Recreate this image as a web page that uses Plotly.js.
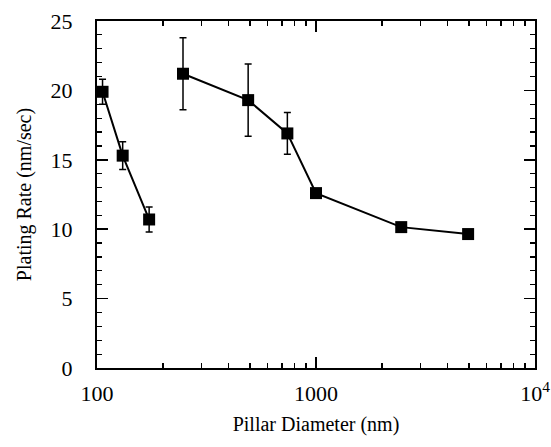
<!DOCTYPE html>
<html>
<head>
<meta charset="utf-8">
<script src="https://cdn.plot.ly/plotly-3.0.1.min.js"></script>
<style>html,body{margin:0;padding:0;background:#fff;}#chart{width:551px;height:447px;}</style>
</head>
<body>
<div id="chart"></div>
<script>
// Series A: small pillars
const diamA = [106, 131, 173];
const rateA = [19.9, 15.3, 10.7];
const errA = [0.9, 1.0, 0.9];
// Series B: larger pillars
const diamB = [247, 490, 740, 1000, 2450, 4950];
const rateB = [21.2, 19.3, 16.9, 12.6, 10.15, 9.65];
const errB = [2.6, 2.6, 1.5, 0.3, 0.3, 0.3];

const xTickVals = [100, 1000, 10000];
const xTickText = ['100', '1000', '10<sup>4</sup>'];
const xMinorVals = [200,300,400,500,600,700,800,900,2000,3000,4000,5000,6000,7000,8000,9000];
const yTickVals = [0, 5, 10, 15, 20, 25];

function mkTrace(x, y, e) {
  return {
    x: x, y: y, type: 'scatter', mode: 'lines+markers',
    line: {color: '#000', width: 2},
    marker: {symbol: 'square', size: 12, color: '#000'},
    error_y: {type: 'data', array: e, visible: true, color: '#000', thickness: 1.5, width: 3.5},
    showlegend: false
  };
}

const FAM = 'Liberation Serif';

const layout = {
  width: 551, height: 447,
  margin: {l: 97, r: 16, t: 21, b: 79},
  paper_bgcolor: '#fff', plot_bgcolor: '#fff',
  font: {family: FAM, size: 20, color: '#000'},
  xaxis: {
    type: 'log', range: [2, 4],
    tickmode: 'array', tickvals: xTickVals, ticktext: xTickText,
    ticks: 'inside', ticklen: 11, tickwidth: 1.5, tickcolor: '#000',
    ticklabelstandoff: 5,
    minor: {tickmode: 'array', tickvals: xMinorVals, ticks: 'inside', ticklen: 5, tickwidth: 1.2, tickcolor: '#000', showgrid: false},
    showline: true, linecolor: '#000', linewidth: 2, mirror: 'ticks',
    showgrid: false, zeroline: false,
    tickfont: {family: FAM, size: 22, color: '#000'},
    title: {text: 'Pillar Diameter (nm)', font: {family: FAM, size: 20, color: '#000'}, standoff: 12}
  },
  yaxis: {
    range: [0, 25],
    tickmode: 'array', tickvals: yTickVals,
    ticks: 'inside', ticklen: 11, tickwidth: 1.5, tickcolor: '#000',
    ticklabelstandoff: 18,
    minor: {dtick: 1, ticks: 'inside', ticklen: 5, tickwidth: 1.2, tickcolor: '#000', showgrid: false},
    showline: true, linecolor: '#000', linewidth: 2, mirror: 'ticks',
    showgrid: false, zeroline: false,
    tickfont: {family: FAM, size: 22, color: '#000'},
    title: {text: 'Plating Rate (nm/sec)', font: {family: FAM, size: 20, color: '#000'}, standoff: 14}
  }
};

Plotly.newPlot('chart', [mkTrace(diamA, rateA, errA), mkTrace(diamB, rateB, errB)], layout, {staticPlot: true, displayModeBar: false});
</script>
</body>
</html>
